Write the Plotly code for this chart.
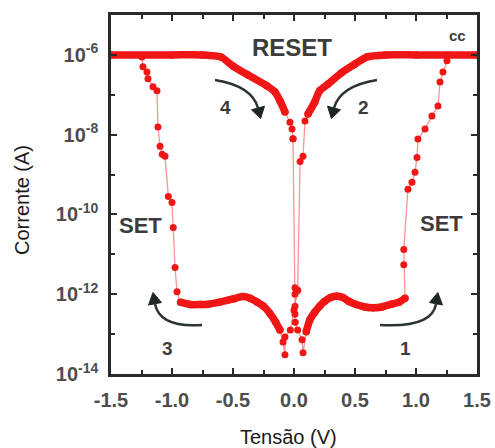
import plotly.graph_objects as go

# ---------------- data (voltage in V, current as log10(A)) ----------------
# sweep 1: 0 -> +1.5 V  (near-zero start, HRS, SET)
zero_pos_v = [-0.008, 0.008, 0.008, 0.008, 0.008, 0.01, 0.03, 0.066, 0.074, 0.1]
zero_pos_log = [-8.1, -11.84, -12.0, -12.3, -12.5, -12.7, -12.9, -13.14, -13.47, -12.94]

hrs_pos_v = [0.1, 0.13, 0.17, 0.21, 0.25, 0.3, 0.35, 0.4, 0.45, 0.51, 0.58, 0.65, 0.72, 0.8, 0.86, 0.91]
hrs_pos_log = [-12.94, -12.64, -12.45, -12.3, -12.18, -12.08, -12.05, -12.08, -12.18, -12.26,
               -12.32, -12.34, -12.32, -12.25, -12.2, -12.1]

set_pos_v = [0.91, 0.90, 0.90, 0.934, 0.967, 0.992, 1.008, 1.016, 1.074, 1.131, 1.18, 1.197, 1.221, 1.254, 1.262]
set_pos_log = [-12.1, -11.26, -10.88, -9.37, -9.19, -8.94, -8.57, -8.11, -7.86, -7.53, -7.28, -6.68, -6.43, -6.15, -6.0]

# sweep 2: +1.5 -> 0 V (compliance, RESET)
reset_pos_v = [1.5, 1.0, 0.75, 0.6, 0.5, 0.39, 0.28, 0.21, 0.17, 0.115]
reset_pos_log = [-6.0, -6.0, -6.0, -6.05, -6.23, -6.45, -6.73, -6.9, -7.18, -7.48]

reset_pos_tail_v = [0.115, 0.09, 0.074, 0.05, 0.03]
reset_pos_tail_log = [-7.48, -7.66, -8.54, -8.67, -11.9]

# sweep 3: 0 -> -1.5 V (near-zero, HRS, SET)
zero_neg_v = [0.03, 0.0, -0.03, -0.074, -0.074, -0.09, -0.115]
zero_neg_log = [-11.9, -12.4, -12.9, -13.07, -13.52, -13.2, -12.9]

hrs_neg_v = [-0.115, -0.15, -0.2, -0.25, -0.3, -0.36, -0.42, -0.5, -0.61, -0.7, -0.77, -0.85, -0.93]
hrs_neg_log = [-12.9, -12.7, -12.47, -12.3, -12.2, -12.1, -12.06, -12.12, -12.2, -12.25, -12.26, -12.26, -12.2]

set_neg_v = [-0.93, -0.959, -0.975, -0.99, -1.0, -1.03, -1.057, -1.08, -1.098, -1.115,
             -1.123, -1.156, -1.197, -1.205, -1.238, -1.246]
set_neg_log = [-12.2, -11.94, -11.33, -10.33, -9.7, -9.55, -8.54, -8.49, -8.29, -7.81,
               -6.9, -6.8, -6.6, -6.43, -6.3, -6.05]

# sweep 4: -1.5 -> 0 V (compliance, RESET)
reset_neg_v = [-1.5, -1.0, -0.75, -0.6, -0.5, -0.38, -0.22, -0.156, -0.115, -0.074]
reset_neg_log = [-6.0, -6.0, -6.0, -6.05, -6.28, -6.5, -6.78, -6.93, -7.15, -7.43]

reset_neg_tail_v = [-0.074, -0.033, -0.016, -0.008]
reset_neg_tail_log = [-7.43, -7.69, -7.86, -8.1]

x_tickvals = [-1.5, -1.0, -0.5, 0.0, 0.5, 1.0, 1.5]
x_ticktext = ["-1.5", "-1.0", "-0.5", "0.0", "0.5", "1.0", "1.5"]
x_minor = [-1.25, -0.75, -0.25, 0.25, 0.75, 1.25]
y_exponents = [-14, -12, -10, -8, -6]
y_minor_exponents = [-13, -11, -9, -7, -5]

# ---------------- styling ----------------
RED = "rgb(240,22,22)"
THIN = "rgba(240,60,60,0.55)"
TXT = "#3c3c3c"
FONT = "Liberation Sans, Arial, sans-serif"

W, H = 495, 448
L, R, T, B = 111, 18, 15, 74
PW, PH = W - L - R, H - T - B


def to_current(logs):
    return [10 ** e for e in logs]


fig = go.Figure()

dense = [(hrs_pos_v, hrs_pos_log), (reset_pos_v, reset_pos_log),
         (hrs_neg_v, hrs_neg_log), (reset_neg_v, reset_neg_log)]
sparse = [(zero_pos_v, zero_pos_log), (set_pos_v, set_pos_log),
          (reset_pos_tail_v, reset_pos_tail_log), (zero_neg_v, zero_neg_log),
          (set_neg_v, set_neg_log), (reset_neg_tail_v, reset_neg_tail_log)]

for v, lg in sparse:
    fig.add_trace(go.Scatter(x=v, y=to_current(lg), mode="lines+markers",
                             line=dict(color=THIN, width=1.3),
                             marker=dict(color=RED, size=7),
                             showlegend=False, hoverinfo="skip"))
for v, lg in dense:
    fig.add_trace(go.Scatter(x=v, y=to_current(lg), mode="lines+markers",
                             line=dict(color=RED, width=7.5, shape="spline", smoothing=0.6),
                             marker=dict(color=RED, size=7.5),
                             showlegend=False, hoverinfo="skip"))


def pp(x, y):
    """pixel -> paper coordinates"""
    return (x - L) / PW, (T + PH - y) / PH


def arrow(tail, ctrl, end, tip, b1, b2):
    p = [pp(*q) for q in (tail, ctrl, end)]
    fig.add_shape(type="path", xref="paper", yref="paper",
                  path=f"M {p[0][0]},{p[0][1]} Q {p[1][0]},{p[1][1]} {p[2][0]},{p[2][1]}",
                  line=dict(color="#2b3336", width=2.5))
    t = [pp(*q) for q in (tip, b1, b2)]
    fig.add_shape(type="path", xref="paper", yref="paper",
                  path=f"M {t[0][0]},{t[0][1]} L {t[1][0]},{t[1][1]} L {t[2][0]},{t[2][1]} Z",
                  fillcolor="#1f2628", line=dict(color="#1f2628", width=1))


arrow((215, 80), (252, 86), (258, 108), (260.6, 118.5), (264.5, 106.2), (251.5, 109.8))
arrow((377, 80), (340, 86), (334, 108), (331.4, 118.5), (340.5, 109.8), (327.5, 106.2))
arrow((202, 325), (160, 328), (155, 304), (153, 292.5), (161.5, 302.5), (148.5, 305))
arrow((380, 325), (432, 328), (436, 304), (437.8, 292.5), (442.5, 305), (429.5, 302.5))


def label(text, x, y, size, bold=True, color=TXT, angle=0):
    px, py = pp(x, y)
    fig.add_annotation(x=px, y=py, xref="paper", yref="paper", text=text,
                       showarrow=False, textangle=angle,
                       xanchor="center", yanchor="middle",
                       font=dict(family=FONT, size=size, color=color,
                                 weight="bold" if bold else "normal"))


label("RESET", 292, 47, 24)
label("cc", 457, 35, 15)
label("4", 225, 108, 19)
label("2", 363, 108, 19)
label("SET", 140, 225, 22)
label("SET", 441, 223, 22)
label("3", 167, 348, 19)
label("1", 405, 348, 19)
label("Corrente (A)", 22, 200, 20, bold=False, color="#1a1a1a", angle=-90)
label("Tensão (V)", 288, 437, 20, bold=False, color="#1a1a1a")

axis_common = dict(showline=True, linewidth=2.5, linecolor="#2a2a2a", mirror="allticks",
                   ticks="inside", ticklen=6, tickwidth=2, tickcolor="#2a2a2a",
                   showgrid=False, zeroline=False, automargin=False,
                   tickfont=dict(family=FONT, size=20, color="#4d4d4d", weight="bold"))

fig.update_layout(
    width=W, height=H, margin=dict(l=L, r=R, t=T, b=B, autoexpand=False),
    paper_bgcolor="white", plot_bgcolor="white",
    xaxis=dict(range=[-1.5, 1.5], tickvals=x_tickvals, ticktext=x_ticktext,
               ticklabelstandoff=6,
               minor=dict(tickvals=x_minor, ticks="inside", ticklen=4, tickwidth=1.5,
                          tickcolor="#2a2a2a"),
               **axis_common),
    yaxis=dict(type="log", range=[-14, -5],
               tickvals=[10 ** e for e in y_exponents],
               ticktext=[f"10<sup>{e}</sup>" for e in y_exponents],
               ticklabelstandoff=6,
               minor=dict(tickvals=[10 ** e for e in y_minor_exponents], ticks="inside",
                          ticklen=4, tickwidth=1.5, tickcolor="#2a2a2a"),
               **axis_common),
)

fig.write_html("out.html")
